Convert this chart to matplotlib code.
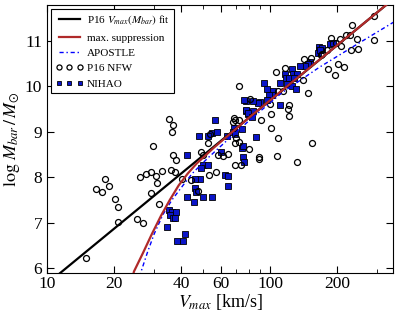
import matplotlib
matplotlib.use("Agg")
import matplotlib.pyplot as plt
from matplotlib.ticker import FixedLocator, NullFormatter

plt.rcParams['font.family'] = ['Liberation Serif', 'DejaVu Serif']
plt.rcParams['mathtext.fontset'] = 'stix'

# P16 Vmax(Mbar) fit (straight in log-log)
fit_v = [11.2, 340.0]
fit_logm = [5.85, 11.84]

# maximum suppression curve
sup_v = [24.2, 24.5, 26.9, 29.5, 32.4, 35.5, 38.9, 42.7, 46.8, 51.3, 56.2,
         63.1, 79.4, 125.9, 340.0]
sup_logm = [5.80, 5.92, 6.33, 6.75, 7.15, 7.50, 7.82, 8.08, 8.30, 8.48, 8.66,
            8.87, 9.29, 10.10, 11.84]

# APOSTLE relation
apo_v = [26.0, 26.3, 28.2, 30.2, 33.1, 36.3, 39.8, 44.7, 52.5, 63.1, 79.4,
         112.2, 166.0, 251.2, 358.9]
apo_logm = [5.80, 5.90, 6.35, 6.75, 7.18, 7.50, 7.76, 8.08, 8.42, 8.78, 9.22,
            9.85, 10.42, 10.96, 11.42]

# P16 NFW galaxies
nfw_v = [29.8, 26.1, 27.8, 29.2, 32.6, 30.7, 31.1, 29.1, 31.6, 18.1, 18.9, 16.6,
         17.6, 20.2, 20.8, 20.8, 25.3, 26.9, 14.9, 35.2, 36.6, 36.2, 36.5, 37.9,
         35.9, 37.6, 48.9, 50.1, 52.6, 53.8, 40.3, 44.1, 53.4, 57.3, 58.6, 61.4,
         64.6, 69.7, 74.1, 69.7, 68.0, 72.4, 70.2, 72.6, 69.2, 80.5, 47.7, 106.1,
         116.8, 141.1, 140.2, 147.6, 107.8, 113.6, 120.8, 120.1, 100.7, 100.0,
         90.9, 169.3, 152.7, 120.8, 100.7, 108.6, 153.8, 89.5, 89.5, 107.5, 132.2,
         292.6, 231.5, 217.7, 226.8, 204.6, 186.4, 244.8, 292.6, 208.2, 197.1,
         230.8, 247.3, 180.1, 169.8, 200.4, 213.2, 180.7, 195.6, 72.1, 68.5, 81.3]
nfw_logm = [8.69, 8.00, 8.08, 8.12, 8.14, 8.02, 7.86, 7.65, 7.41, 7.96, 7.81, 7.73,
            7.67, 7.52, 7.35, 7.02, 7.07, 6.98, 6.23, 9.29, 9.14, 8.99, 8.49, 8.38,
            8.15, 8.11, 8.55, 8.49, 8.76, 8.96, 7.95, 7.93, 8.05, 8.11, 8.49, 8.47,
            8.51, 8.26, 8.26, 9.25, 9.21, 9.25, 8.87, 8.77, 8.75, 8.63, 7.70, 10.31,
            10.40, 10.60, 10.13, 9.85, 9.89, 9.89, 9.59, 9.50, 9.38, 9.62,
            9.26, 10.69, 10.62, 9.35, 9.09, 8.86, 8.76, 8.44, 8.40, 8.47, 8.33,
            11.56, 11.35, 11.12, 11.12, 11.04, 11.06, 11.04, 11.01, 10.89, 10.95,
            10.80, 10.82, 10.79, 10.71, 10.49, 10.42, 10.38, 10.24, 10.00, 9.30, 9.72]

# NIHAO galaxies
nihao_v = [56.5, 48.0, 54.8, 58.0, 42.3, 50.2, 52.6, 49.0, 60.3, 64.0, 69.0, 68.0,
           74.7, 74.7, 75.7, 75.9, 69.7, 62.8, 64.6, 48.6, 45.8, 46.1, 64.4, 77.8,
           79.4, 78.0, 46.6, 42.5, 49.9, 55.1, 45.5, 35.2, 36.4, 37.9, 35.6, 36.6,
           37.5, 34.5, 41.3, 38.3, 40.6, 164.7, 165.9, 163.7, 151.1, 147.0, 142.5,
           136.3, 125.1, 116.8, 126.4, 132.2, 118.0, 120.8, 127.2, 110.9, 118.8,
           93.3, 97.0, 103.2, 125.1, 130.4, 101.8, 98.3, 90.2, 87.7, 83.3, 110.1,
           78.0, 83.3, 79.9, 185.8, 191.0, 170.6, 167.6, 86.5, 52.7, 75.7, 75.9,
           82.8, 96.6]
nihao_logm = [9.26, 8.90, 8.98, 9.00, 8.49, 8.27, 8.27, 8.20, 8.55, 8.91, 9.09, 9.00,
              9.06, 8.64, 8.44, 8.34, 8.94, 8.05, 8.02, 7.97, 7.95, 7.76, 7.81, 9.46,
              9.39, 9.67, 7.67, 7.57, 7.56, 7.56, 7.45, 7.27, 7.24, 7.24, 7.17, 7.09,
              7.09, 6.90, 6.74, 6.59, 6.59, 10.87, 10.80, 10.74, 10.53, 10.49, 10.44,
              10.44, 10.38, 10.27, 10.27, 10.27, 10.19, 10.18, 10.18, 10.08, 10.05,
              10.08, 9.95, 9.90, 10.00, 9.94, 9.80, 9.80, 9.65, 9.63, 9.68, 9.59,
              9.48, 9.46, 9.41, 10.94, 10.96, 10.85, 10.79, 8.89, 8.90, 8.68, 9.70,
              9.32, 9.70]

fig = plt.figure(figsize=(3.99, 3.17), dpi=100)
ax = fig.add_axes([0.118, 0.139, 0.867, 0.845])

ax.plot(nihao_v, nihao_logm, ls='none', marker='s', ms=4.0, mfc='#0a14c8',
        mec='black', mew=0.6, zorder=2, label='NIHAO')
ax.plot(nfw_v, nfw_logm, ls='none', marker='o', ms=4.3, mfc='none',
        mec='black', mew=0.9, zorder=2.5, label='P16 NFW')
ax.plot(fit_v, fit_logm, color='black', lw=1.6, zorder=3,
        label=r'P16 $V_{max}(M_{bar})$ fit')
ax.plot(sup_v, sup_logm, color='#b02a2a', lw=1.6, zorder=3.2,
        label='max. suppression')
ax.plot(apo_v, apo_logm, color='blue', lw=1.0, ls=(0, (3, 2, 1, 2)), zorder=3.1,
        label='APOSTLE')

ax.set_xscale('log')
ax.set_xlim(10, 355)
ax.set_ylim(5.89, 11.79)
ax.xaxis.set_major_locator(FixedLocator([10, 20, 40, 60, 100, 200]))
ax.xaxis.set_minor_locator(FixedLocator([30, 50, 70, 80, 90, 300]))
ax.xaxis.set_minor_formatter(NullFormatter())
ax.set_xticklabels(['10', '20', '40', '60', '100', '200'])
ax.set_yticks([6, 7, 8, 9, 10, 11])
ax.tick_params(which='both', direction='in', top=True, right=True, labelsize=12.5)
ax.tick_params(which='major', length=5, width=0.8)
ax.tick_params(which='minor', length=3, width=0.6)
ax.tick_params(axis='x', pad=2.5)

ax.set_xlabel(r'$V_{max}$ [km/s]', fontsize=13, labelpad=0)
ax.set_ylabel(r'$\log\,M_{bar}\,/\,M_{\odot}$', fontsize=13, labelpad=2)

handles, labels = ax.get_legend_handles_labels()
order = [2, 3, 4, 1, 0]
leg = ax.legend([handles[i] for i in order], [labels[i] for i in order],
                loc='upper left', numpoints=3, fontsize=8, fancybox=False,
                edgecolor='black', framealpha=1, handlelength=2.5,
                markerscale=0.85, borderaxespad=0.35, labelspacing=0.5,
                handletextpad=0.35)
leg.get_frame().set_linewidth(0.8)

fig.savefig('out.png', dpi=100)
